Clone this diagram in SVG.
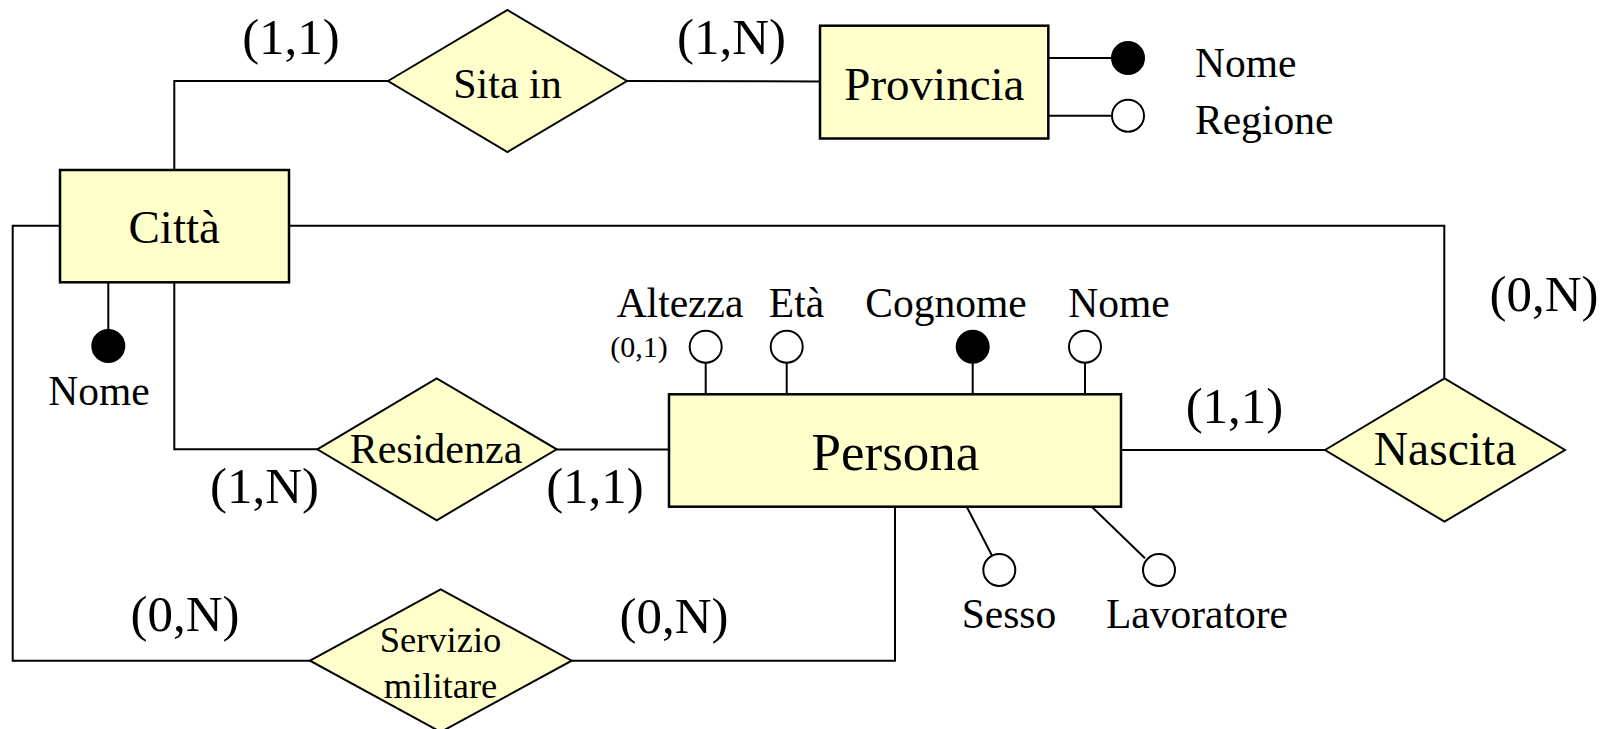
<svg xmlns="http://www.w3.org/2000/svg" width="1613" height="729" viewBox="0 0 1613 729">
<style>
text{font-family:"Liberation Serif","Times New Roman",serif;fill:#000}
.ent{fill:#FFFFCC;stroke:#000;stroke-width:2.5}
.rel{fill:#FFFFCC;stroke:#000;stroke-width:2}
.ln{fill:none;stroke:#000;stroke-width:2}
.ao{fill:#fff;stroke:#000;stroke-width:2}
.af{fill:#000;stroke:#000;stroke-width:2}
.card{font-size:51px;text-anchor:middle}
.attr{font-size:41.5px}
.mid{text-anchor:middle}
</style>
<rect width="1613" height="729" fill="#fff"/>
<g id="connectors">
<polyline class="ln" points="174.3,170 174.3,81 388,81"/>
<line class="ln" x1="627" y1="81" x2="820" y2="81.5"/>
<polyline class="ln" points="289,225.7 1444.3,225.7 1444.3,378.3"/>
<polyline class="ln" points="60,225.7 12.7,225.7 12.7,660.7 310,660.7"/>
<polyline class="ln" points="174.3,282.3 174.3,449.3 317.3,449.3"/>
<line class="ln" x1="556.7" y1="449.5" x2="669" y2="449.5"/>
<line class="ln" x1="1121" y1="450" x2="1325" y2="450"/>
<polyline class="ln" points="895,506.7 895,660.7 571.7,660.7"/>
</g>
<g id="cardinalities">
<text class="card" x="291" y="54">(1,1)</text>
<text class="card" x="731.5" y="54">(1,N)</text>
<text class="card" x="264.5" y="503">(1,N)</text>
<text class="card" x="595" y="503">(1,1)</text>
<text class="card" x="185" y="631">(0,N)</text>
<text class="card" x="674" y="633">(0,N)</text>
<text class="card" x="1234.5" y="423">(1,1)</text>
<text class="card" x="1544" y="311">(0,N)</text>
</g>
<g id="citta">
<line class="ln" x1="108.3" y1="282.3" x2="108.3" y2="330"/>
<circle class="af" cx="108.3" cy="346" r="16"/>
<text class="attr mid" x="99" y="405">Nome</text>
<rect class="ent" x="60" y="170" width="229" height="112.3"/>
<text class="mid" x="174.2" y="243.3" font-size="47">Città</text>
</g>
<g id="provincia">
<line class="ln" x1="1048.3" y1="58" x2="1112" y2="58"/>
<line class="ln" x1="1048.3" y1="115.7" x2="1112" y2="115.7"/>
<circle class="af" cx="1128" cy="58" r="16"/>
<circle class="ao" cx="1128" cy="115.7" r="16"/>
<text class="attr" x="1195" y="77">Nome</text>
<text class="attr" x="1195" y="134">Regione</text>
<rect class="ent" x="820" y="25.7" width="228.3" height="112.8"/>
<text class="mid" x="934.4" y="100" font-size="47">Provincia</text>
</g>
<g id="persona">
<line class="ln" x1="705.7" y1="363" x2="705.7" y2="394.3"/>
<line class="ln" x1="786.7" y1="363" x2="786.7" y2="394.3"/>
<line class="ln" x1="972.7" y1="363" x2="972.7" y2="394.3"/>
<line class="ln" x1="1085" y1="363" x2="1085" y2="394.3"/>
<circle class="ao" cx="705.7" cy="346.7" r="16"/>
<circle class="ao" cx="786.7" cy="346.7" r="16"/>
<circle class="af" cx="972.7" cy="346.7" r="16"/>
<circle class="ao" cx="1085" cy="346.7" r="16"/>
<text class="attr mid" x="680" y="316.7">Altezza</text>
<text class="attr mid" x="796.5" y="316.7">Età</text>
<text class="attr mid" x="946" y="316.7">Cognome</text>
<text class="attr mid" x="1119" y="316.7">Nome</text>
<text class="mid" x="639" y="356.5" font-size="30">(0,1)</text>
<line class="ln" x1="966.7" y1="506.7" x2="991.7" y2="555"/>
<line class="ln" x1="1091.7" y1="506.7" x2="1145" y2="558.3"/>
<circle class="ao" cx="999.3" cy="570" r="16"/>
<circle class="ao" cx="1159" cy="570" r="16"/>
<text class="attr mid" x="1009" y="628.3">Sesso</text>
<text class="attr mid" x="1197" y="628.3">Lavoratore</text>
<rect class="ent" x="669" y="394.3" width="452" height="112.4"/>
<text class="mid" x="895.5" y="470" font-size="53">Persona</text>
</g>
<g id="sita-in">
<polygon class="rel" points="388,81 507.5,10 627,81 507.5,152"/>
<text class="mid" x="507.5" y="98.3" font-size="42">Sita in</text>
</g>
<g id="residenza">
<polygon class="rel" points="317.3,449.3 436.7,378.3 556.7,449.3 436.7,520.3"/>
<text class="mid" x="436" y="463.3" font-size="42">Residenza</text>
</g>
<g id="nascita">
<polygon class="rel" points="1325,450 1444.5,378.3 1565,450 1444.5,521.7"/>
<text class="mid" x="1445" y="465" font-size="47.5">Nascita</text>
</g>
<g id="servizio-militare">
<polygon class="rel" points="310,660.7 440.7,589.3 571.7,660.7 440.7,732"/>
<text class="mid" x="440.5" y="651.7" font-size="36.5">Servizio</text>
<text class="mid" x="440.5" y="698.3" font-size="36.5">militare</text>
</g>
</svg>
